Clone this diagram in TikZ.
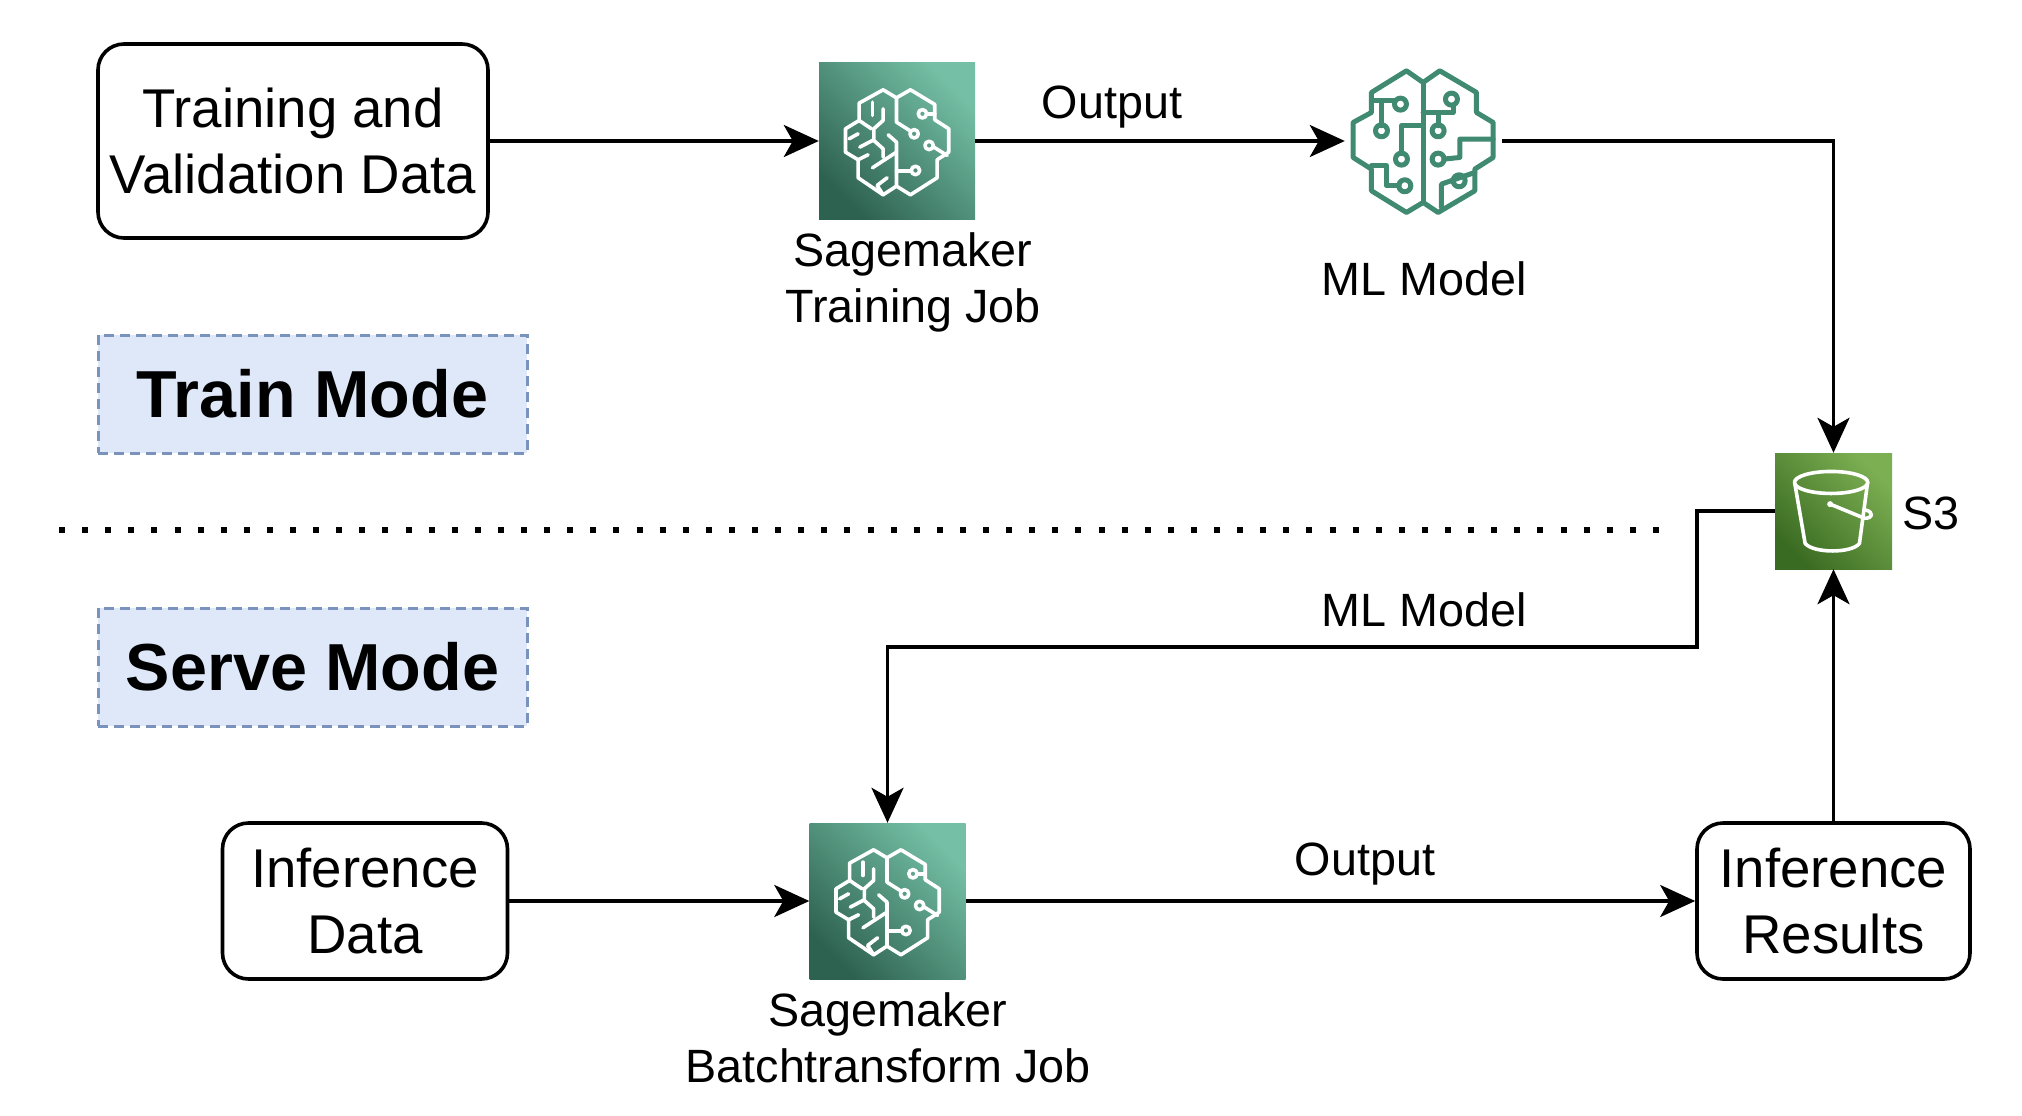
\documentclass[tikz,border=0pt]{standalone}
\usepackage{fontspec}
\setmainfont{Liberation Sans}
\usetikzlibrary{arrows.meta}
\definecolor{mlgreen}{HTML}{3F8A70}
\newcommand{\brainlines}{%
  \draw (250,148)--(290,172)--(332,148)--(405,192)--(405,238)--(447,265)--(447,335)--(412,358)--(412,412)--(332,463)--(290,437)--(250,463)--(175,412)--(175,358)--(137,335)--(137,265)--(178,240)--(178,188)--cycle;
  \draw (290,172)--(290,245)--(331,271);
  \draw (343,280) circle[radius=4.2pt];
  \draw (368,220) circle[radius=4.2pt];
  \draw (380,220)--(405,220);
  \draw (388,315) circle[radius=4.2pt];
  \draw (399,318)--(442,345);
  \draw (290,437)--(290,305)--(265,283);
  \draw (290,392)--(335,392);
  \draw (347,390) circle[radius=4.2pt];
  \draw (290,335)--(218,382);
  \draw (218,185)--(218,225);
  \draw (250,205)--(250,240)--(222,265)--(222,300)--(250,325)--(250,350);
  \draw (178,240)--(215,265);
  \draw (148,295)--(175,280);
  \draw (180,320)--(222,298);
  \draw (175,358)--(205,343);
  \draw (250,463)--(232,435)--(262,412);
}
\newcommand{\modellines}{%
  \draw (230,60)--(280,95)--(330,60)--(440,125)--(440,185)--(490,215)--(490,320)--(435,355)--(435,420)--(325,485)--(280,455)--(230,485)--(125,420)--(125,355)--(70,320)--(70,215)--(125,185)--(125,125)--cycle;
  \draw (280,95)--(280,455);
  \draw (125,150)--(195,150);
  \draw (212,160) circle[radius=6pt];
  \draw (155,150)--(155,225);
  \draw (155,240) circle[radius=6pt];
  \draw (280,225)--(215,225)--(215,308);
  \draw (215,325) circle[radius=6pt];
  \draw (125,345)--(170,345)--(170,405)--(208,405);
  \draw (225,405) circle[radius=6pt];
  \draw (280,185)--(370,185)--(370,165);
  \draw (365,145) circle[radius=6pt];
  \draw (325,185)--(325,225);
  \draw (325,240) circle[radius=6pt];
  \draw (490,265)--(390,265)--(390,320)--(342,325);
  \draw (325,325) circle[radius=6pt];
  \draw (335,470)--(335,400)--(435,365);
  \draw (388,390) circle[radius=6pt];
}
\tikzset{
  box/.style={draw=black,line width=3.6pt,rounded corners=26pt,align=center,inner sep=0pt,text=black,font=\fontsize{54.6}{66}\selectfont},
  mode/.style={draw=modeedge,fill=modefill,line width=3pt,dash pattern=on 10pt off 6pt,inner sep=0pt,minimum width=429pt,minimum height=118pt,font=\fontsize{66.5}{70}\selectfont\bfseries},
  smicon/.style={inner sep=0pt,minimum width=156pt,minimum height=156pt,left color=smdark,right color=smlight,shading angle=135},
  sthree/.style={inner sep=0pt,minimum width=117pt,minimum height=116pt,left color=sdark,right color=slight,shading angle=135},
  plain/.style={inner sep=0pt,align=center,font=\fontsize{46.7}{56}\selectfont},
  conn/.style={draw=black,line width=3.6pt,-{Stealth[length=35pt,width=32pt,inset=9pt]}},
  whitelines/.style={draw=white,line width=3.6pt,line join=round,line cap=round},
  modelstyle/.style={draw=mlgreen,line width=5pt,line join=round,line cap=round},
}
\definecolor{modeedge}{HTML}{7A93BD}
\definecolor{modefill}{HTML}{DEE8F9}
\definecolor{smdark}{HTML}{2E6250}
\definecolor{smlight}{HTML}{74BFA5}
\definecolor{sdark}{HTML}{3A6B22}
\definecolor{slight}{HTML}{7CAF52}
\begin{document}
\begin{tikzpicture}[x=1pt,y=-1pt]
\useasboundingbox (0,0) rectangle (2022,1116);
\node[box,minimum width=390pt,minimum height=194pt] (train) at (293,141) {Training and\\Validation Data};
\node[smicon] (job1) at (897,141) {};
\node[inner sep=0pt,minimum width=157pt,minimum height=156pt] (model) at (1423.5,141) {};
\node[mode] (trainmode) at (312.5,394) {Train Mode};
\node[mode] (servemode) at (312.5,667) {Serve Mode};
\node[sthree] (s3) at (1833.5,511) {};
\node[box,minimum width=285pt,minimum height=156pt] (infer) at (365,901) {Inference\\Data};
\node[smicon] (job2) at (887.5,901) {};
\node[box,minimum width=273pt,minimum height=156pt] (results) at (1833.5,901) {Inference\\Results};
\node[plain] (l1) at (913,282) {Sagemaker\\Training Job};
\node[plain] (l2) at (1424,279) {ML Model};
\node[plain] (l3) at (1112,107) {Output};
\node[plain] (l4) at (1931,513) {S3};
\node[plain] (l5) at (1424,610) {ML Model};
\node[plain] (l6) at (1365,864) {Output};
\node[plain] (l7) at (888,1038) {Sagemaker\\Batchtransform Job};
\begin{scope}[shift={(job1.north west)},x=0.3333pt,y=-0.3333pt,xshift=-19pt,yshift=22.33pt,whitelines]\brainlines\end{scope}
\begin{scope}[shift={(job2.north west)},x=0.3333pt,y=-0.3333pt,xshift=-19pt,yshift=22.33pt,whitelines]\brainlines\end{scope}
\begin{scope}[shift={(model.north west)},x=0.3333pt,y=-0.3333pt,xshift=-15pt,yshift=12pt,modelstyle]\modellines\end{scope}
\begin{scope}[shift={(s3.north west)},x=0.3333pt,y=-0.3333pt,xshift=-14.67pt,yshift=12.67pt,whitelines]
  \draw (213,127) ellipse[x radius=110,y radius=33];
  \draw (104,130)--(135,310) .. controls (160,340) and (275,340) .. (298,310)--(322,130);
  \fill[white] (210,192) circle[radius=3pt];
  \draw (210,192)--(312,234) .. controls (340,236) and (340,216) .. (318,210);
\end{scope}
\coordinate (dotL) at (59,530);
\coordinate (dotR) at (1663,530);
\draw[line width=6pt,black,dash pattern=on 6pt off 17.1pt] (dotL)--(dotR);
\draw[conn] (train.east|-job1.west)--(job1.west);
\draw[conn] (job1.east)--(model.west);
\draw[conn] (model.east)-|(s3.north);
\coordinate (bend) at (1697,647);
\draw[conn] (s3.west)-|(bend)-|(job2.north);
\draw[conn] (infer.east)--(job2.west);
\draw[conn] (job2.east)--(results.west);
\draw[conn] (results.north)--(results.north|-s3.south);
\end{tikzpicture}
\end{document}
